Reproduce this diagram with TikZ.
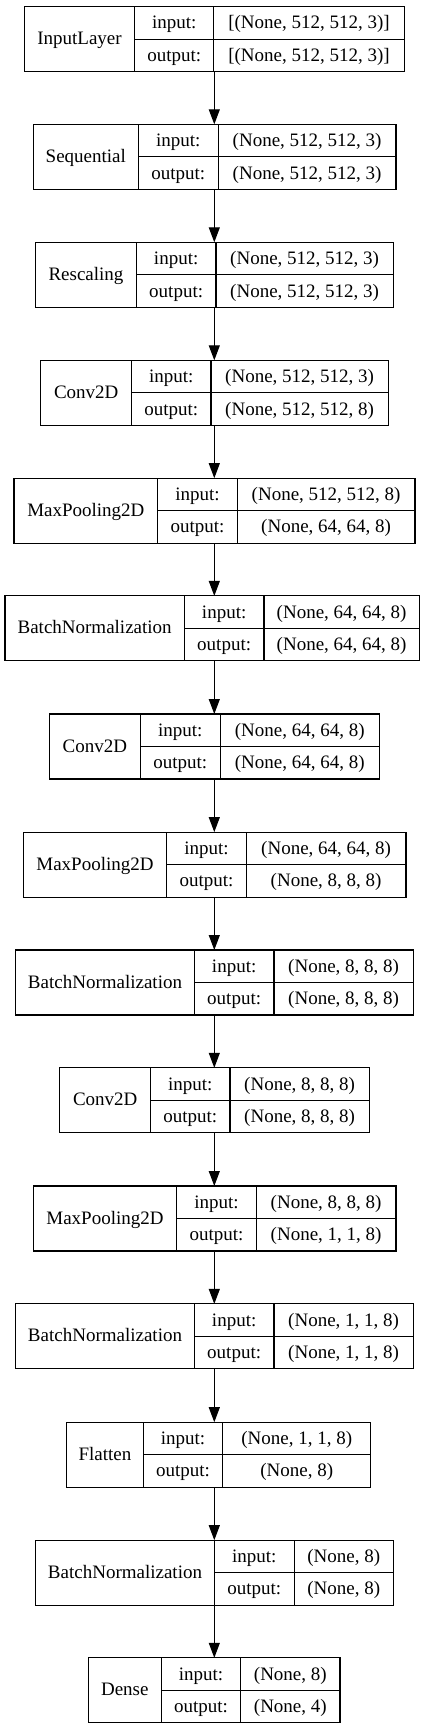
\documentclass[tikz,border=0pt]{standalone}
\usepackage{fontspec}
\setmainfont{Liberation Serif}
\usetikzlibrary{arrows.meta}
\tikzset{
  boxshape/.style={draw=black, line width=1.1pt, inner sep=0pt, outer sep=0pt, rectangle},
  cellline/.style={draw=black, line width=1.1pt},
  lbl/.style={inner sep=0pt, anchor=base, font=\fontsize{19}{22}\selectfont},
  arr/.style={draw=black, line width=1.1pt, -{Triangle[length=15pt, width=11pt]}, shorten >=0pt}
}
% #1 name, #2 top, #3 x0, #4 x1, #5 x2, #6 x3, #7 label, #8 input, #9 output
\newcommand{\layerbox}[9]{%
  \node[boxshape, minimum width={(#6-#3)*1pt}, minimum height=65pt] (#1) at ({(#3+#6)/2},{#2+32.5}) {};
  \draw[cellline] (#4,#2) -- (#4,{#2+65});
  \draw[cellline] (#5,#2) -- (#5,{#2+65});
  \draw[cellline] (#4,{#2+32.5}) -- (#6,{#2+32.5});
  \node[lbl] (#1-name) at ({(#3+#4)/2},{#2+32.5+5.5}) {#7};
  \node[lbl] (#1-inl) at ({(#4+#5)/2},{#2+16.25+6}) {input:};
  \node[lbl] (#1-outl) at ({(#4+#5)/2},{#2+48.75+6}) {output:};
  \node[lbl] (#1-inv) at ({(#5+#6)/2},{#2+16.25+6}) {#8};
  \node[lbl] (#1-outv) at ({(#5+#6)/2},{#2+48.75+6}) {#9};
}
\begin{document}
\begin{tikzpicture}[x=1pt,y=-1pt]
\useasboundingbox[fill=white] (0,0) rectangle (429,1730);
\coordinate (ax) at (214.3,0);
\layerbox{L1}{6.6}{24.3}{134.7}{213.7}{404.3}{InputLayer}{[(None, 512, 512, 3)]}{[(None, 512, 512, 3)]}
\layerbox{L2}{124.3}{33.3}{138.3}{218.3}{396}{Sequential}{(None, 512, 512, 3)}{(None, 512, 512, 3)}
\layerbox{L3}{242.3}{35.7}{136.3}{216}{393.3}{Rescaling}{(None, 512, 512, 3)}{(None, 512, 512, 3)}
\layerbox{L4}{360.3}{40.7}{131.7}{211}{388.3}{Conv2D}{(None, 512, 512, 3)}{(None, 512, 512, 8)}
\layerbox{L5}{478.2}{14}{157.7}{237.3}{415}{MaxPooling2D}{(None, 512, 512, 8)}{(None, 64, 64, 8)}
\layerbox{L6}{595.9}{5}{184.3}{264}{419.3}{BatchNormalization}{(None, 64, 64, 8)}{(None, 64, 64, 8)}
\layerbox{L7}{714}{49.3}{140.3}{220.3}{379.3}{Conv2D}{(None, 64, 64, 8)}{(None, 64, 64, 8)}
\layerbox{L8}{832.1}{23.3}{166.7}{246.3}{406}{MaxPooling2D}{(None, 64, 64, 8)}{(None, 8, 8, 8)}
\layerbox{L9}{950}{15.7}{194.3}{274}{413.3}{BatchNormalization}{(None, 8, 8, 8)}{(None, 8, 8, 8)}
\layerbox{L10}{1067.8}{59.7}{150.7}{230}{369.3}{Conv2D}{(None, 8, 8, 8)}{(None, 8, 8, 8)}
\layerbox{L11}{1186}{33.3}{176.7}{256.3}{396}{MaxPooling2D}{(None, 8, 8, 8)}{(None, 1, 1, 8)}
\layerbox{L12}{1303.9}{15.7}{194.3}{274}{413.3}{BatchNormalization}{(None, 1, 1, 8)}{(None, 1, 1, 8)}
\layerbox{L13}{1422.2}{66.7}{143.3}{222.7}{370.7}{Flatten}{(None, 1, 1, 8)}{(None, 8)}
\layerbox{L14}{1540.2}{35.7}{214.3}{294.3}{393.3}{BatchNormalization}{(None, 8)}{(None, 8)}
\layerbox{L15}{1657.8}{88.3}{161.3}{240.7}{340}{Dense}{(None, 8)}{(None, 4)}
\foreach \a/\b in {L1/L2,L2/L3,L3/L4,L4/L5,L5/L6,L6/L7,L7/L8,L8/L9,L9/L10,L10/L11,L11/L12,L12/L13,L13/L14,L14/L15}{
  \draw[arr] (\a.south -| ax) -- (\b.north -| ax);
}
\end{tikzpicture}
\end{document}
